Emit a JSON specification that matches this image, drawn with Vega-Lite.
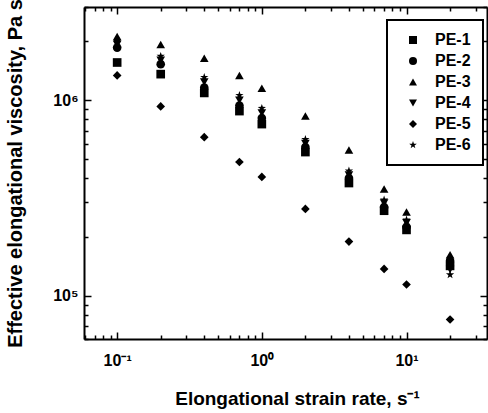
{
  "$schema": "https://vega.github.io/schema/vega-lite/v6.json",
  "autosize": "none",
  "width": 403,
  "height": 332,
  "padding": {"left": 84, "top": 7, "right": 1, "bottom": 74},
  "background": "white",
  "config": {
    "view": {"stroke": null},
    "font": "Liberation Sans",
    "legend": {"strokeWidth": 2},
    "axis": {
      "grid": false,
      "domainColor": "black",
      "domainWidth": 2,
      "tickColor": "black",
      "tickWidth": 1.5,
      "labelColor": "black",
      "titleColor": "black",
      "labelFont": "Liberation Sans",
      "labelFontWeight": "bold",
      "labelFontSize": 16,
      "titleFont": "Liberation Sans",
      "titleFontWeight": "bold",
      "titleFontSize": 19
    }
  },
  "data": {
    "values": [
      {"series": "PE-1", "rate": 0.1, "viscosity": 1560000},
      {"series": "PE-1", "rate": 0.2, "viscosity": 1360000},
      {"series": "PE-1", "rate": 0.4, "viscosity": 1090000},
      {"series": "PE-1", "rate": 0.7, "viscosity": 880000},
      {"series": "PE-1", "rate": 1, "viscosity": 755000},
      {"series": "PE-1", "rate": 2, "viscosity": 543000},
      {"series": "PE-1", "rate": 4, "viscosity": 377000},
      {"series": "PE-1", "rate": 7, "viscosity": 272000},
      {"series": "PE-1", "rate": 10, "viscosity": 217000},
      {"series": "PE-1", "rate": 20, "viscosity": 142000},
      {"series": "PE-2", "rate": 0.1, "viscosity": 1860000},
      {"series": "PE-2", "rate": 0.2, "viscosity": 1530000},
      {"series": "PE-2", "rate": 0.4, "viscosity": 1160000},
      {"series": "PE-2", "rate": 0.7, "viscosity": 940000},
      {"series": "PE-2", "rate": 1, "viscosity": 810000},
      {"series": "PE-2", "rate": 2, "viscosity": 576000},
      {"series": "PE-2", "rate": 4, "viscosity": 400000},
      {"series": "PE-2", "rate": 7, "viscosity": 284000},
      {"series": "PE-2", "rate": 10, "viscosity": 225000},
      {"series": "PE-2", "rate": 20, "viscosity": 151000},
      {"series": "PE-3", "rate": 0.1, "viscosity": 2120000},
      {"series": "PE-3", "rate": 0.2, "viscosity": 1930000},
      {"series": "PE-3", "rate": 0.4, "viscosity": 1640000},
      {"series": "PE-3", "rate": 0.7, "viscosity": 1340000},
      {"series": "PE-3", "rate": 1, "viscosity": 1150000},
      {"series": "PE-3", "rate": 2, "viscosity": 830000},
      {"series": "PE-3", "rate": 4, "viscosity": 556000},
      {"series": "PE-3", "rate": 7, "viscosity": 351000},
      {"series": "PE-3", "rate": 10, "viscosity": 268000},
      {"series": "PE-3", "rate": 20, "viscosity": 162000},
      {"series": "PE-4", "rate": 0.1, "viscosity": 1930000},
      {"series": "PE-4", "rate": 0.2, "viscosity": 1600000},
      {"series": "PE-4", "rate": 0.4, "viscosity": 1240000},
      {"series": "PE-4", "rate": 0.7, "viscosity": 1000000},
      {"series": "PE-4", "rate": 1, "viscosity": 860000},
      {"series": "PE-4", "rate": 2, "viscosity": 600000},
      {"series": "PE-4", "rate": 4, "viscosity": 414000},
      {"series": "PE-4", "rate": 7, "viscosity": 298000},
      {"series": "PE-4", "rate": 10, "viscosity": 236000},
      {"series": "PE-4", "rate": 20, "viscosity": 136000},
      {"series": "PE-5", "rate": 0.1, "viscosity": 1340000},
      {"series": "PE-5", "rate": 0.2, "viscosity": 930000},
      {"series": "PE-5", "rate": 0.4, "viscosity": 647000},
      {"series": "PE-5", "rate": 0.7, "viscosity": 483000},
      {"series": "PE-5", "rate": 1, "viscosity": 405000},
      {"series": "PE-5", "rate": 2, "viscosity": 278000},
      {"series": "PE-5", "rate": 4, "viscosity": 189000},
      {"series": "PE-5", "rate": 7, "viscosity": 137000},
      {"series": "PE-5", "rate": 10, "viscosity": 114000},
      {"series": "PE-5", "rate": 20, "viscosity": 75500},
      {"series": "PE-6", "rate": 0.1, "viscosity": 2000000},
      {"series": "PE-6", "rate": 0.2, "viscosity": 1680000},
      {"series": "PE-6", "rate": 0.4, "viscosity": 1310000},
      {"series": "PE-6", "rate": 0.7, "viscosity": 1060000},
      {"series": "PE-6", "rate": 1, "viscosity": 910000},
      {"series": "PE-6", "rate": 2, "viscosity": 630000},
      {"series": "PE-6", "rate": 4, "viscosity": 435000},
      {"series": "PE-6", "rate": 7, "viscosity": 309000},
      {"series": "PE-6", "rate": 10, "viscosity": 244000},
      {"series": "PE-6", "rate": 20, "viscosity": 128000}
    ]
  },
  "resolve": {"axis": {"x": "independent", "y": "independent"}},
  "layer": [
    {
      "mark": {"type": "point", "filled": true, "color": "black", "opacity": 1, "size": 75},
      "encoding": {
        "x": {
          "field": "rate", "type": "quantitative",
          "scale": {"type": "log", "domain": [0.059, 36], "nice": false},
          "axis": {
            "orient": "bottom",
            "values": [0.06, 0.07, 0.08, 0.09, 0.1, 0.2, 0.3, 0.4, 0.5, 0.6, 0.7, 0.8, 0.9, 1, 2, 3, 4, 5, 6, 7, 8, 9, 10, 20, 30],
            "tickSize": {"condition": {"test": "datum.value == 0.1 || datum.value == 1 || datum.value == 10", "value": -7}, "value": -4},
            "labelExpr": "datum.value == 0.1 ? '10⁻¹' : datum.value == 1 ? '10⁰' : datum.value == 10 ? '10¹' : ''",
            "labelPadding": 20,
            "labelOverlap": false,
            "title": "Elongational strain rate, s⁻¹",
            "titleX": 213,
            "titleAnchor": "middle",
            "titlePadding": 18
          }
        },
        "y": {
          "field": "viscosity", "type": "quantitative",
          "scale": {"type": "log", "domain": [60000, 3000000], "nice": false},
          "axis": {
            "orient": "left",
            "values": [60000, 70000, 80000, 90000, 100000, 200000, 300000, 400000, 500000, 600000, 700000, 800000, 900000, 1000000, 2000000, 3000000],
            "tickSize": {"condition": {"test": "datum.value == 100000 || datum.value == 1000000", "value": -7}, "value": -4},
            "labelExpr": "datum.value == 100000 ? '10⁵' : datum.value == 1000000 ? '10⁶' : ''",
            "labelPadding": 13,
            "labelOverlap": false,
            "title": "Effective elongational viscosity, Pa s",
            "titleFontSize": 20,
            "titlePadding": 27
          }
        },
        "shape": {
          "field": "series", "type": "nominal",
          "scale": {
            "domain": ["PE-1", "PE-2", "PE-3", "PE-4", "PE-5", "PE-6"],
            "range": ["square", "circle", "triangle-up", "triangle-down", "diamond", "M0,-1L0.235,-0.324L0.951,-0.309L0.38,0.124L0.588,0.809L0,0.4L-0.588,0.809L-0.38,0.124L-0.951,-0.309L-0.235,-0.324Z"]
          },
          "legend": {
            "orient": "none",
            "legendX": 303,
            "legendY": 13,
            "title": null,
            "padding": 12,
            "rowPadding": 5,
            "strokeColor": "black",
            "fillColor": "white",
            "symbolSize": 64,
            "symbolFillColor": "black",
            "symbolStrokeColor": "black",
            "symbolOffset": 6,
            "labelOffset": 14,
            "labelFont": "Liberation Sans",
            "labelFontWeight": "bold",
            "labelFontSize": 16,
            "labelColor": "black"
          }
        }
      }
    },
    {
      "mark": {"type": "point", "opacity": 0},
      "encoding": {
        "x": {
          "field": "rate", "type": "quantitative",
          "scale": {"type": "log", "domain": [0.059, 36], "nice": false},
          "axis": {
            "orient": "top",
            "values": [0.06, 0.07, 0.08, 0.09, 0.1, 0.2, 0.3, 0.4, 0.5, 0.6, 0.7, 0.8, 0.9, 1, 2, 3, 4, 5, 6, 7, 8, 9, 10, 20, 30],
            "tickSize": {"condition": {"test": "datum.value == 0.1 || datum.value == 1 || datum.value == 10", "value": -7}, "value": -4},
            "labels": false,
            "title": null
          }
        },
        "y": {
          "field": "viscosity", "type": "quantitative",
          "scale": {"type": "log", "domain": [60000, 3000000], "nice": false},
          "axis": {
            "orient": "right",
            "values": [60000, 70000, 80000, 90000, 100000, 200000, 300000, 400000, 500000, 600000, 700000, 800000, 900000, 1000000, 2000000, 3000000],
            "tickSize": {"condition": {"test": "datum.value == 100000 || datum.value == 1000000", "value": -7}, "value": -4},
            "labels": false,
            "title": null
          }
        }
      }
    }
  ]
}
